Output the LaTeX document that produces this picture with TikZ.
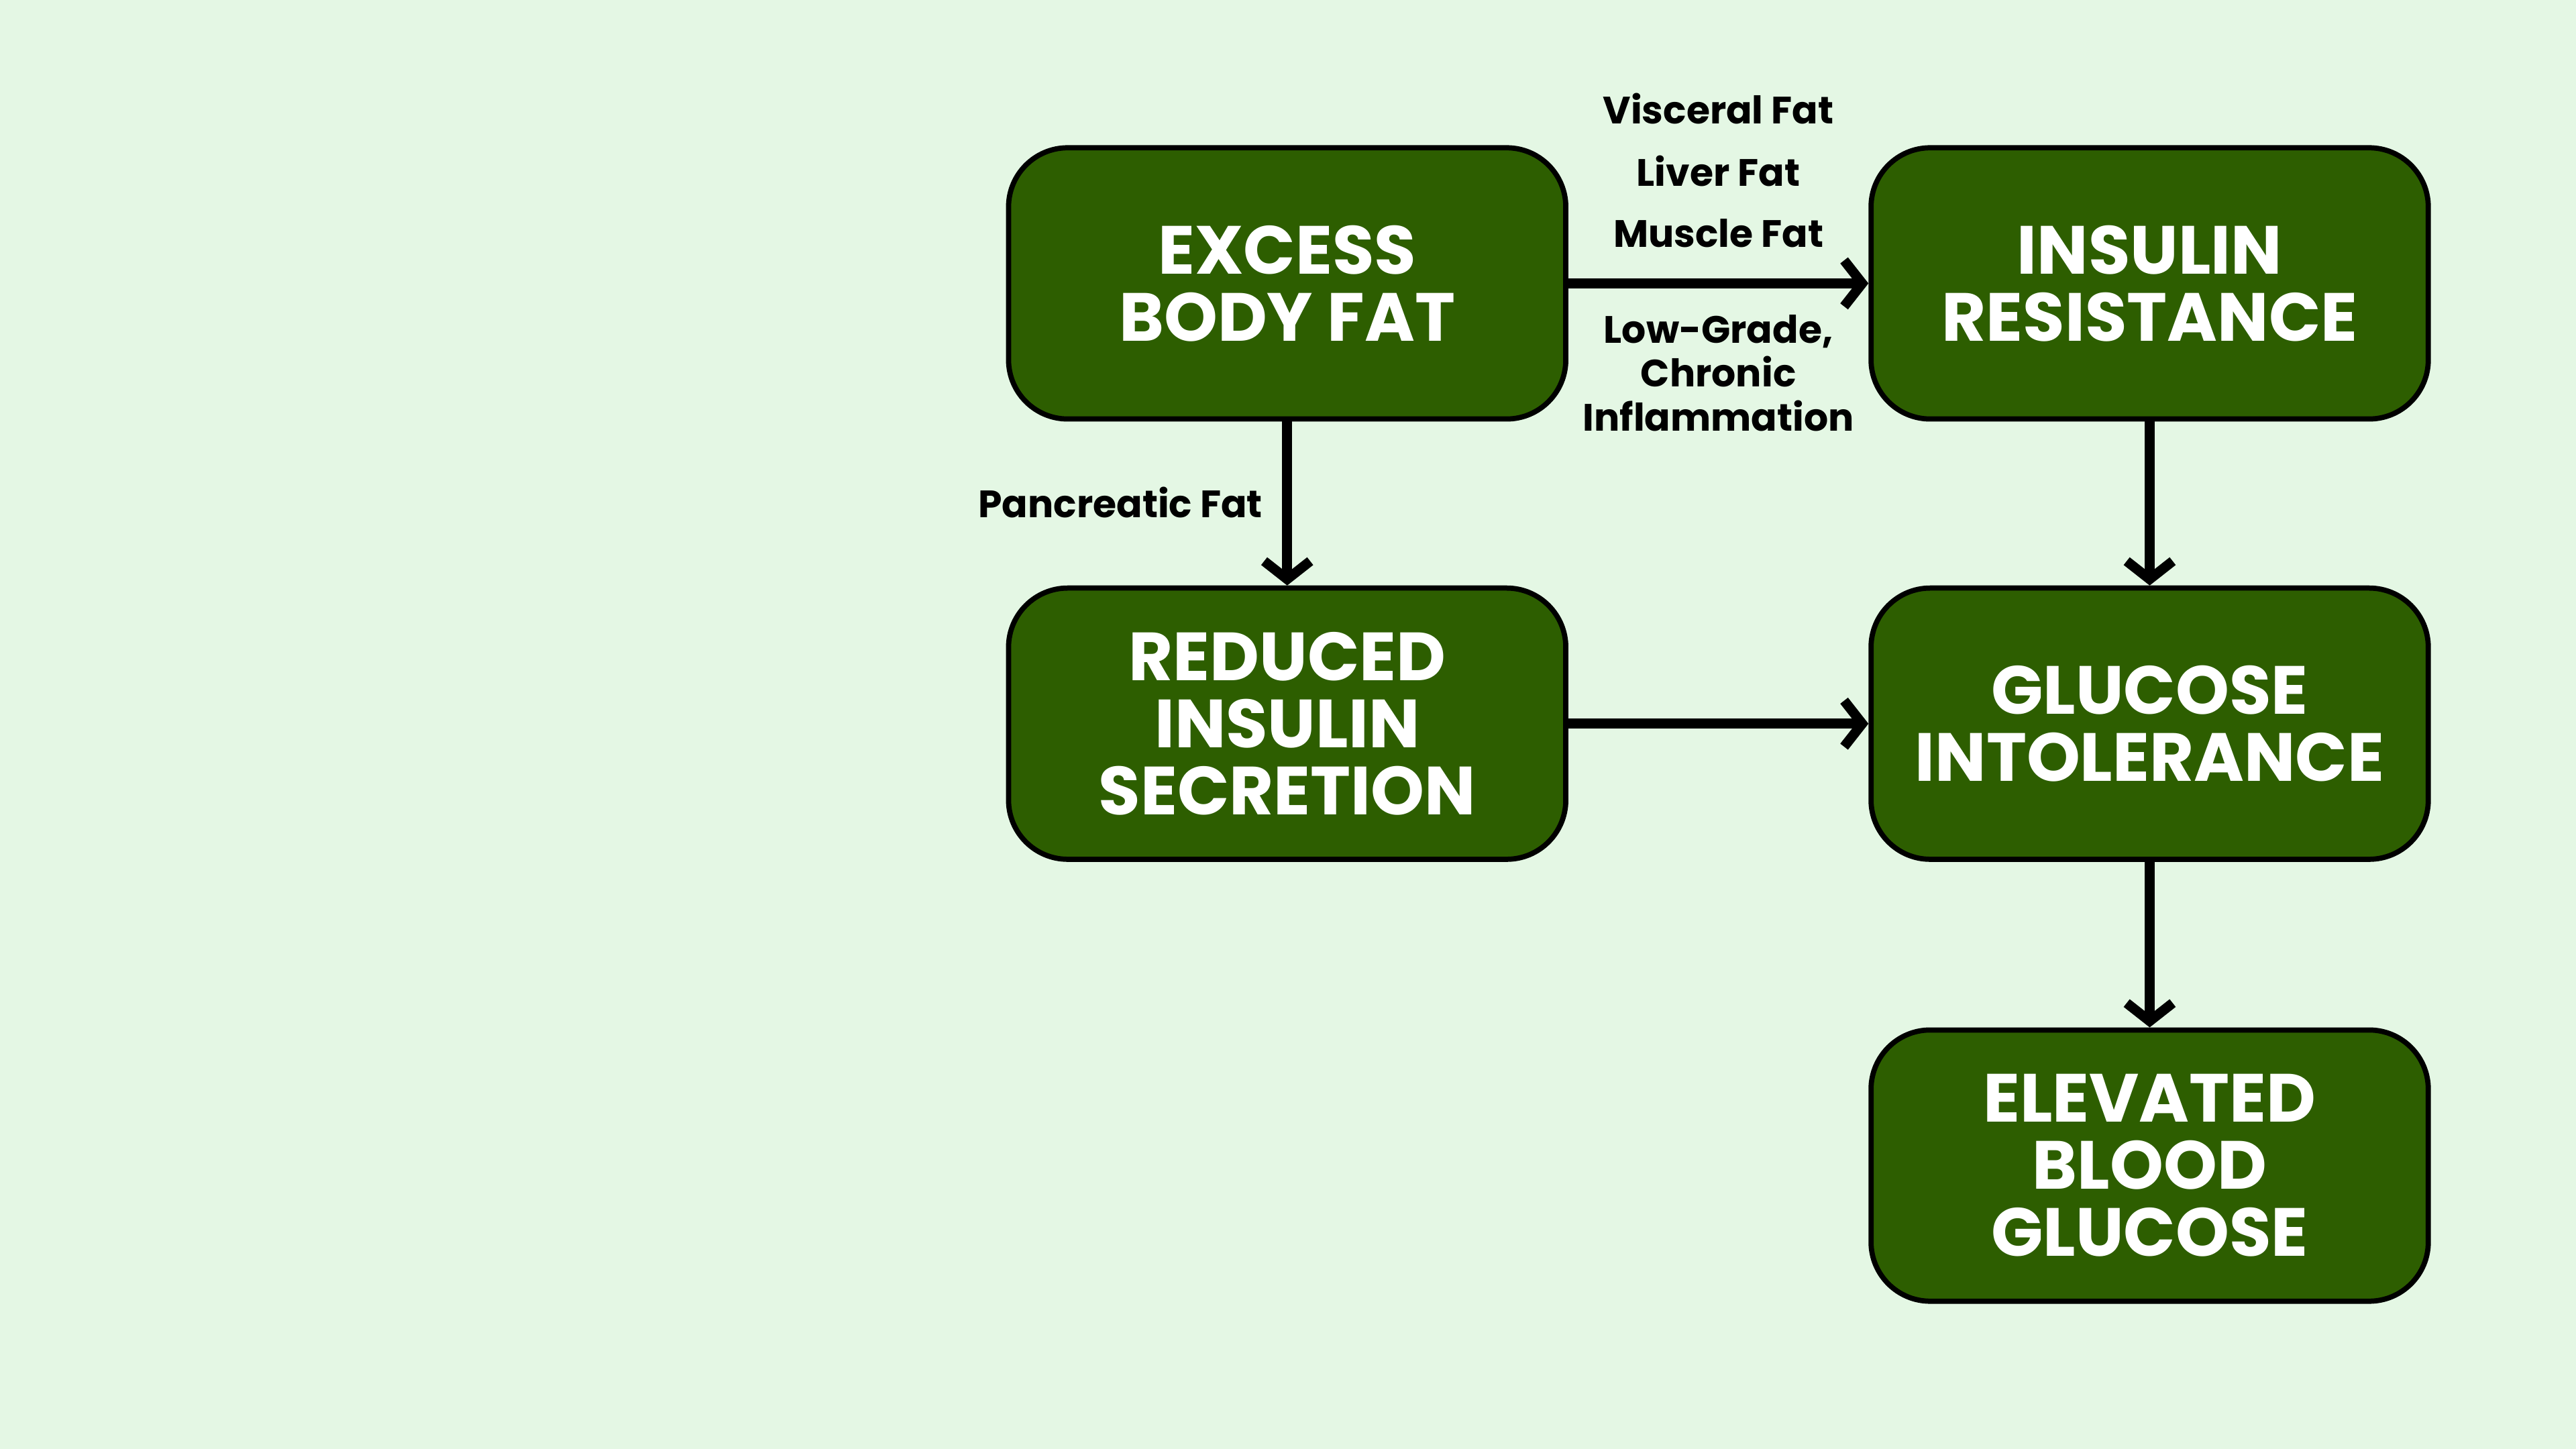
\documentclass[tikz,border=0pt]{standalone}
\usepackage{fontspec}
\setmainfont{Poppins}
\usetikzlibrary{arrows.meta}
\definecolor{bg}{HTML}{E4F7E4}
\definecolor{boxg}{HTML}{2D5E00}
\begin{document}
\begin{tikzpicture}[x=0.01cm,y=-0.01cm,
  box/.style={draw=black,line width=0.9pt,fill=boxg,rounded corners=0.36cm,minimum width=3.39cm,minimum height=1.65cm,text=white,align=center,font=\fontsize{11.8}{11.6}\selectfont\bfseries,inner sep=0pt},
  lbl/.style={font=\fontsize{6.6}{7.6}\selectfont\bfseries,align=center,inner sep=0pt},
  arr/.style={line width=1.7pt,-{Straight Barb[length=0.11cm,width=0.28cm,line width=1.7pt]}}]
\fill[bg] (0,0) rectangle (1568,882);
\useasboundingbox (0,0) rectangle (1568,882);
\node[box] (a) at (783.5,172.5) {EXCESS\\BODY FAT};
\node[box] (b) at (1308.5,172.5) {INSULIN\\RESISTANCE};
\node[box] (c) at (783.5,440.5) {REDUCED\\INSULIN\\SECRETION};
\node[box] (d) at (1308.5,440.5) {GLUCOSE\\INTOLERANCE};
\node[box] (e) at (1308.5,709.5) {ELEVATED\\BLOOD\\GLUCOSE};
\draw[arr] (a.east) -- (b.west);
\draw[arr] (a.south) -- (c.north);
\draw[arr] (b.south) -- (d.north);
\draw[arr] (c.east) -- (d.west);
\draw[arr] (d.south) -- (e.north);
\node[lbl] (l1) at (1046,66) {Visceral Fat};
\node[lbl] (l2) at (1046,104) {Liver Fat};
\node[lbl] (l3) at (1046,142) {Muscle Fat};
\node[lbl] (l4) at (1046,227) {Low-Grade,\\Chronic\\Inflammation};
\node[lbl] (l5) at (682,306) {Pancreatic Fat};
\end{tikzpicture}
\end{document}
